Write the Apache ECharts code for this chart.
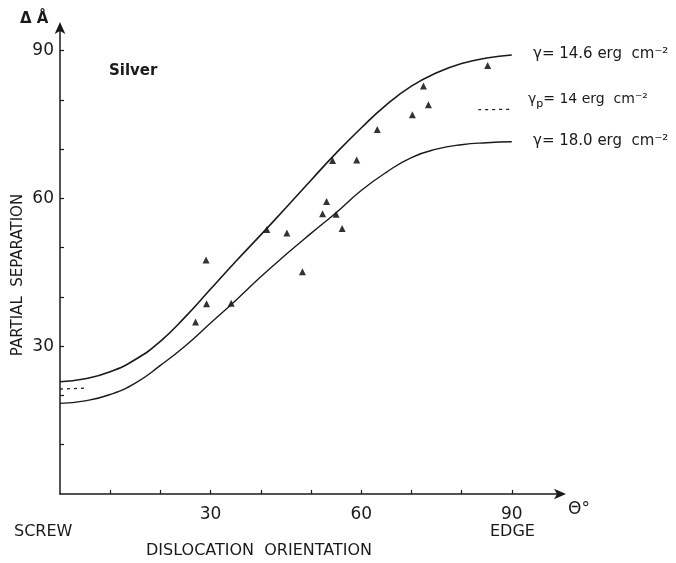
<!DOCTYPE html>
<html>
<head>
<meta charset="utf-8">
<script src="https://cdn.jsdelivr.net/npm/echarts@6/dist/echarts.min.js"></script>
<style>
  html, body { margin: 0; padding: 0; background: #fff; }
  #chart { width: 676px; height: 563px; }
</style>
</head>
<body>
<div id="chart"></div>
<script>
// orientation angles (deg) at which the curves were read
const angles = [0, 5, 10, 15, 20, 25, 30, 35, 40, 45, 50, 55, 60, 65, 70, 75, 80, 85, 90]
// gamma = 14.6 erg cm-2 (upper curve)
const upperCurve = [22.8, 23.4, 24.8, 27.3, 31.0, 36.0, 41.6, 47.2, 52.6, 58.1, 63.7, 69.2, 74.3, 79.0, 82.8, 85.5, 87.4, 88.5, 89.1]
// gamma = 18.0 erg cm-2 (lower curve)
const lowerCurve = [18.4, 18.9, 20.2, 22.5, 26.1, 30.1, 34.7, 39.3, 44.1, 48.6, 52.9, 57.1, 61.6, 65.3, 68.3, 70.0, 70.9, 71.3, 71.5]
// gamma_p = 14 erg cm-2, only drawn as short dotted ends
const dottedLeft = [[0, 21.3], [5.3, 21.5]]
const dottedRight = [[83.3, 78.0], [90, 78.1]]
// measured partial separations
const measured = [
  [27.0, 34.9], [29.1, 47.5], [29.2, 38.6], [34.1, 38.7], [41.2, 53.7],
  [45.2, 53.0], [48.3, 45.1], [52.3, 56.9], [53.1, 59.4], [55.0, 56.8],
  [56.2, 53.9], [54.3, 67.7], [59.1, 67.8], [63.2, 74.0], [70.2, 77.0],
  [72.4, 82.8], [73.4, 79.0], [85.2, 87.0]
]
const xTicks = [10, 20, 30, 40, 50, 60, 70, 80, 90]
const xLabels = [30, 60, 90]
const yTicks = [10, 20, 30, 40, 50, 60, 70, 80, 90]
const yLabels = [30, 60, 90]

const ink = '#1a1a1a'
const font = 'DejaVu Sans'

const chart = echarts.init(document.getElementById('chart'))

function pairs(ys) {
  return angles.map((a, i) => [a, ys[i]])
}

const option = {
  backgroundColor: '#fff',
  animation: false,
  grid: { left: 60, top: 26, right: 114, bottom: 69 },
  xAxis: {
    type: 'value',
    min: 0,
    max: 100,
    axisLine: {
      lineStyle: { color: ink, width: 1.5 },
      symbol: ['none', 'arrow'],
      symbolSize: [8, 12],
      symbolOffset: [0, 4]
    },
    axisTick: { inside: true, length: 4, customValues: xTicks, lineStyle: { color: ink, width: 1.2 } },
    axisLabel: { customValues: xLabels, color: ink, fontFamily: font, fontSize: 17, margin: 12 },
    splitLine: { show: false }
  },
  yAxis: {
    type: 'value',
    min: 0,
    max: 95,
    axisLine: {
      show: true,
      lineStyle: { color: ink, width: 1.5 },
      symbol: ['none', 'arrow'],
      symbolSize: [8, 12],
      symbolOffset: [0, 4]
    },
    axisTick: { show: true, inside: true, length: 4, customValues: yTicks, lineStyle: { color: ink, width: 1.2 } },
    axisLabel: { customValues: yLabels, color: ink, fontFamily: font, fontSize: 17, margin: 6 },
    splitLine: { show: false }
  },
  series: [
    {
      type: 'line',
      data: pairs(upperCurve),
      smooth: true,
      showSymbol: false,
      lineStyle: { color: ink, width: 1.6 }
    },
    {
      type: 'line',
      data: pairs(lowerCurve),
      smooth: true,
      showSymbol: false,
      lineStyle: { color: ink, width: 1.4 }
    },
    {
      type: 'line',
      data: dottedLeft,
      showSymbol: false,
      lineStyle: { color: ink, width: 1.2, type: [3, 4] }
    },
    {
      type: 'line',
      data: dottedRight,
      showSymbol: false,
      lineStyle: { color: ink, width: 1.2, type: [3, 4] }
    },
    {
      type: 'scatter',
      data: measured,
      symbol: 'triangle',
      symbolSize: 7,
      itemStyle: { color: '#000' }
    }
  ],
  graphic: [
    { type: 'text', left: 20, top: 12, style: { text: 'Δ Å', font: 'bold 15px ' + font, fill: ink } },
    { type: 'text', left: 109, top: 64, style: { text: 'Silver', font: 'bold 15px ' + font, fill: ink } },
    {
      type: 'text', x: 18, y: 275, rotation: Math.PI / 2,
      style: { text: 'PARTIAL  SEPARATION', font: '15px ' + font, fill: ink, align: 'center', verticalAlign: 'middle' }
    },
    { type: 'text', left: 14, top: 524, style: { text: 'SCREW', font: '16px ' + font, fill: ink } },
    { type: 'text', left: 146, top: 543, style: { text: 'DISLOCATION  ORIENTATION', font: '16px ' + font, fill: ink } },
    { type: 'text', left: 490, top: 524, style: { text: 'EDGE', font: '16px ' + font, fill: ink } },
    { type: 'text', left: 568, top: 501, style: { text: 'Θ°', font: '17px ' + font, fill: ink } },
    { type: 'text', left: 533, top: 47, style: { text: 'γ= 14.6 erg  cm⁻²', font: '15px ' + font, fill: ink } },
    {
      type: 'text', left: 528, top: 92,
      style: {
        text: '{g|γ}{s|p}{g|= 14 erg  cm⁻²}',
        rich: {
          g: { font: '14px ' + font, fill: ink, color: ink },
          s: { font: '11px ' + font, color: ink, padding: [10, 0, 0, 0] }
        }
      }
    },
    { type: 'text', left: 533, top: 134, style: { text: 'γ= 18.0 erg  cm⁻²', font: '15px ' + font, fill: ink } }
  ]
}

chart.setOption(option)
</script>
</body>
</html>
